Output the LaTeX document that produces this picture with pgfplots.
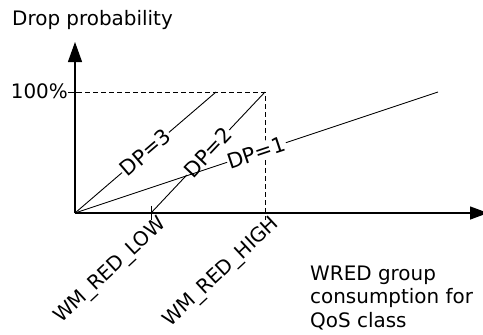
\documentclass[border=0pt]{standalone}
\usepackage{fontspec}
\setmainfont{DejaVu Sans}
\usepackage{pgfplots}
\pgfplotsset{compat=1.18}
\usetikzlibrary{arrows.meta}
\newcommand\lf{\fontsize{20}{24}\selectfont}
\newcommand\df{\fontsize{21}{25}\selectfont}
\begin{document}
\begin{tikzpicture}[x=1bp,y=1bp]
\useasboundingbox (-75,-121) rectangle (408,213);
\begin{axis}[anchor=origin, at={(0,0)}, scale only axis, width=408bp, height=171bp,
  xmin=0, xmax=408, ymin=0, ymax=141.32, hide axis, clip=false]
% axes
\draw[line width=1.3bp, -{Triangle[length=18bp,width=13bp]}] (axis cs:0,0) -- (axis cs:413,0);
\draw[line width=1.3bp, -{Triangle[length=20bp,width=14bp]}] (axis cs:0,0) -- (axis cs:0,141.32);
% ticks
\addplot[black, line width=0.9bp] coordinates {(76,5.8) (76,-5.8)};
\addplot[black, line width=0.9bp] coordinates {(-7,100) (2,100)};
% guides
\addplot[black, line width=0.9bp, dash pattern=on 5bp off 3bp] coordinates {(2,100) (190,100) (190,-5.8)};
% curves
\addplot[black, line width=0.9bp] coordinates {(0,0) (141,100)}
  node[pos=0.5, sloped, fill=white, inner sep=1bp, font=\df] {DP=3};
\addplot[black, line width=0.9bp] coordinates {(76,0) (190,100)}
  node[pos=0.5, sloped, fill=white, inner sep=1bp, font=\df] {DP=2};
\addplot[black, line width=0.9bp] coordinates {(0,0) (363,100)}
  node[pos=0.5, sloped, fill=white, inner sep=1bp, font=\df] {DP=1};
% rotated tick labels
\node[rotate=43, anchor=base east, inner sep=0, font=\lf] at (axis cs:92,-9.9) {WM\_RED\_LOW};
\node[rotate=43, anchor=base east, inner sep=0, font=\lf] at (axis cs:205,-9.9) {WM\_RED\_HIGH};
\end{axis}
\node[anchor=base west, inner sep=0, font=\lf] at (-63,188) {Drop probability};
\node[anchor=base east, inner sep=0, font=\lf] at (-7,115) {100\%};
\node[anchor=base west, inner sep=0, font=\lf] at (235,-67) {WRED group};
\node[anchor=base west, inner sep=0, font=\lf] at (235,-90) {consumption for};
\node[anchor=base west, inner sep=0, font=\lf] at (235,-114) {QoS class};
\end{tikzpicture}
\end{document}
